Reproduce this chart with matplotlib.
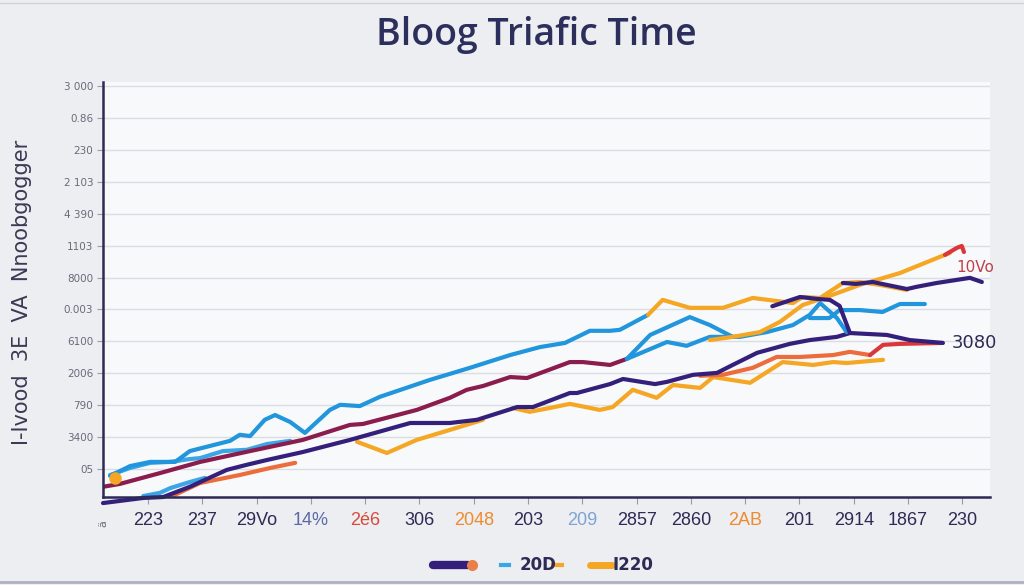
import matplotlib
matplotlib.use("Agg")
import matplotlib.pyplot as plt
from matplotlib.lines import Line2D

# x in tick-slot units, y in gridline-level units
x_labels = ["223", "237", "29Vo", "14%", "2é6", "306", "2048", "203", "209",
            "2857", "2860", "2AB", "201", "2914", "1867", "230"]
x_label_colors = ["#2d2b55", "#2d2b55", "#2d2b55", "#5b6aa6", "#d94a3a", "#2d2b55",
                  "#ef8a2e", "#2d2b55", "#7fa3d4", "#2d2b55", "#2d2b55", "#ef8a2e",
                  "#2d2b55", "#2d2b55", "#2d2b55", "#2d2b55"]
y_labels = ["05", "3400", "790", "2006", "6100", "0.003", "8000", "1103",
            "4 390", "2 103", "230", "0.86", "3 000"]

sky_main_x = [-0.70, -0.33, 0.04, 0.50, 0.77, 1.51, 1.69, 1.88, 2.15, 2.34, 2.62, 2.89,
              3.35, 3.54, 3.90, 4.27, 5.19, 5.93, 6.67, 7.22, 7.68, 8.14, 8.51, 8.69, 9.21]
sky_main_y = [-0.22, 0.09, 0.22, 0.22, 0.56, 0.88, 1.07, 1.03, 1.54, 1.69, 1.47, 1.13,
              1.85, 2.01, 1.97, 2.26, 2.79, 3.17, 3.57, 3.82, 3.95, 4.33, 4.33, 4.36, 4.83]

orange_main_x = [9.21, 9.48, 9.98, 10.59, 11.14, 11.88, 12.06, 12.38, 12.80, 13.11, 13.48, 13.98]
orange_main_y = [4.83, 5.30, 5.05, 5.05, 5.36, 5.20, 5.39, 5.36, 5.83, 5.86, 5.77, 5.61]

sky_low_x = [-0.70, -0.33, 0.04, 0.41, 0.77, 0.96, 1.38, 1.82, 2.19, 2.62]
sky_low_y = [-0.19, 0.03, 0.19, 0.22, 0.31, 0.34, 0.56, 0.60, 0.78, 0.88]

sky_bottom_x = [-0.09, 0.22, 0.41, 0.77, 1.05]
sky_bottom_y = [-0.85, -0.75, -0.60, -0.41, -0.28]

maroon_x = [-0.83, -0.52, 0.22, 0.96, 1.88, 2.85, 3.72, 3.96, 4.95, 5.56, 5.87, 6.17,
            6.67, 6.98, 7.77, 8.01, 8.51, 8.82]
maroon_y = [-0.56, -0.47, -0.13, 0.22, 0.56, 0.91, 1.38, 1.41, 1.85, 2.23, 2.48, 2.60,
            2.88, 2.85, 3.35, 3.35, 3.26, 3.45]

sky_mid1_x = [8.82, 9.25, 9.98, 10.35, 10.77]
sky_mid1_y = [3.45, 4.20, 4.76, 4.51, 4.14]

sky_mid2_x = [8.82, 9.56, 9.92, 10.35, 10.90, 11.40, 11.88, 12.19, 12.38, 12.69, 12.87]
sky_mid2_y = [3.45, 3.98, 3.86, 4.14, 4.14, 4.29, 4.51, 4.83, 5.20, 4.73, 4.29]

sky_right_x = [12.19, 12.55, 12.74, 13.11, 13.53, 13.85, 14.31]
sky_right_y = [4.73, 4.73, 4.98, 4.98, 4.92, 5.17, 5.17]

indigo_x = [-0.83, -0.09, 0.28, 0.77, 1.45, 1.82, 2.19, 2.85, 3.72, 4.83, 5.56, 6.06,
            6.80, 7.09, 7.77, 7.90, 8.51, 8.75, 9.34, 9.56, 10.04, 10.48, 10.77, 11.22,
            11.82, 12.19, 12.69, 12.93, 13.61, 14.03, 14.64]
indigo_y = [-1.07, -0.91, -0.88, -0.56, -0.03, 0.13, 0.28, 0.53, 0.91, 1.44, 1.44, 1.54,
            1.94, 1.94, 2.38, 2.38, 2.66, 2.82, 2.66, 2.73, 2.95, 3.01, 3.26, 3.64,
            3.92, 4.04, 4.14, 4.26, 4.20, 4.04, 3.95]

purple_mid_x = [11.50, 12.01, 12.32, 12.56, 12.74, 12.93]
purple_mid_y = [5.10, 5.39, 5.33, 5.30, 5.11, 4.26]

navy_up_x = [12.80, 13.04, 13.35, 13.98, 14.16, 14.53, 15.14, 15.36]
navy_up_y = [5.83, 5.80, 5.86, 5.64, 5.71, 5.83, 5.99, 5.86]

orange_low1_x = [3.85, 4.40, 4.95, 5.69, 6.17]
orange_low1_y = [0.85, 0.50, 0.91, 1.29, 1.54]

orange_low2_x = [6.72, 7.03, 7.40, 7.77, 8.32, 8.56, 8.93, 9.37, 9.67, 10.17, 10.41,
                 11.09, 11.69, 12.25, 12.62, 12.87, 13.54]
orange_low2_y = [1.91, 1.79, 1.91, 2.04, 1.85, 1.94, 2.48, 2.23, 2.63, 2.54, 2.88,
                 2.70, 3.35, 3.26, 3.35, 3.32, 3.42]

redorange_x = [10.17, 10.59, 11.14, 11.58, 12.01, 12.62, 12.93, 13.30]
redorange_y = [2.92, 2.95, 3.17, 3.51, 3.51, 3.57, 3.67, 3.57]

red_right_x = [13.30, 13.54, 13.85, 14.64]
red_right_y = [3.57, 3.89, 3.92, 3.95]

orange_b_x = [10.35, 10.77, 11.27, 11.64, 12.06, 12.50, 13.11, 13.85, 14.59, 14.77]
orange_b_y = [4.04, 4.14, 4.29, 4.61, 5.14, 5.39, 5.77, 6.14, 6.65, 6.77]

red_tip_x = [14.68, 14.90, 14.99, 15.03]
red_tip_y = [6.71, 6.93, 6.99, 6.80]

red_left_x = [0.41, 0.96, 1.69, 2.25, 2.71]
red_left_y = [-0.88, -0.44, -0.19, 0.03, 0.19]

SKY = "#2196dc"
MAROON = "#8b1c4e"
INDIGO = "#34207a"
ORANGE = "#f5a623"
REDOR = "#ec6d3b"
RED = "#d9373a"
NAVY = "#2d2b55"

fig = plt.figure(figsize=(10.24, 5.85), dpi=100, facecolor="#eceef1")
ax = fig.add_axes([103 / 1024, 88 / 585, 887 / 1024, 415 / 585])
ax.set_facecolor("#f8f9fb")

lw = 3.0
ax.plot(sky_low_x, sky_low_y, color="#3aa6e6", lw=lw, solid_capstyle="round")
ax.plot(sky_bottom_x, sky_bottom_y, color="#3aa6e6", lw=lw, solid_capstyle="round")
ax.plot(red_left_x, red_left_y, color=REDOR, lw=lw, solid_capstyle="round")
ax.plot(orange_low1_x, orange_low1_y, color=ORANGE, lw=lw, solid_capstyle="round")
ax.plot(orange_low2_x, orange_low2_y, color=ORANGE, lw=lw, solid_capstyle="round")
ax.plot(redorange_x, redorange_y, color=REDOR, lw=lw, solid_capstyle="round")
ax.plot(red_right_x, red_right_y, color=RED, lw=lw, solid_capstyle="round")
ax.plot(indigo_x, indigo_y, color=INDIGO, lw=lw, solid_capstyle="round", clip_on=False)
ax.plot(maroon_x, maroon_y, color=MAROON, lw=lw, solid_capstyle="round")
ax.plot(sky_mid1_x, sky_mid1_y, color=SKY, lw=lw, solid_capstyle="round")
ax.plot(sky_mid2_x, sky_mid2_y, color=SKY, lw=lw, solid_capstyle="round")
ax.plot(sky_right_x, sky_right_y, color=SKY, lw=lw, solid_capstyle="round")
ax.plot(sky_main_x, sky_main_y, color=SKY, lw=lw, solid_capstyle="round")
ax.plot(orange_main_x, orange_main_y, color=ORANGE, lw=lw, solid_capstyle="round")
ax.plot(orange_b_x, orange_b_y, color=ORANGE, lw=lw, solid_capstyle="round")
ax.plot(purple_mid_x, purple_mid_y, color=INDIGO, lw=lw, solid_capstyle="round")
ax.plot(navy_up_x, navy_up_y, color=INDIGO, lw=lw, solid_capstyle="round")
ax.plot(red_tip_x, red_tip_y, color=RED, lw=lw, solid_capstyle="round")
ax.plot([sky_main_x[0] + 0.1], [sky_main_y[0] - 0.05], "o", color=ORANGE, ms=8)

ax.text(15.23, 6.30, "10Vo", color="#c0404a", fontsize=11, ha="center", va="center")
ax.text(15.23, 3.95, "3080", color=NAVY, fontsize=13, ha="center", va="center")

ax.set_xlim(-0.83, 15.51)
ax.set_ylim(-0.88, 12.13)

ax.set_xticks(range(len(x_labels)))
ax.set_xticklabels(x_labels, fontsize=13, family="Liberation Sans")
for lab, c in zip(ax.get_xticklabels(), x_label_colors):
    lab.set_color(c)
ax.set_yticks(range(len(y_labels)))
ax.set_yticklabels(y_labels, fontsize=7.5, color="#6a6a7a")
ax.tick_params(axis="x", length=5, color="#9a9aaa", pad=6)
ax.tick_params(axis="y", length=4, color="#9a9aaa", pad=3)

ax.grid(axis="y", color="#dcdde3", lw=1)
ax.set_axisbelow(True)
for side in ["top", "right"]:
    ax.spines[side].set_visible(False)
for side in ["left", "bottom"]:
    ax.spines[side].set_color(NAVY)
    ax.spines[side].set_linewidth(1.8)

fig.text(0.524, 0.94, "Bloog Triafic Time", fontsize=27, fontweight="semibold",
         family="Open Sans", color="#2c2f5b", ha="center", va="center")
fig.text(0.021, 0.50, "I-Ivood  3E  VA  Nnoobgogger", rotation=90, fontsize=15,
         color="#3a3a55", ha="center", va="center")
fig.text(0.1006, 0.105, "ä", rotation=90, fontsize=8, color="#6a6a7a", ha="center", va="center")

# legend-like strip at the bottom
ly = 1 - 565 / 585
fig.add_artist(Line2D([433 / 1024, 468 / 1024], [ly, ly], color=INDIGO, lw=6,
                      solid_capstyle="round"))
fig.add_artist(Line2D([472 / 1024], [ly], marker="o", color="#e8804a", ms=7))
fig.add_artist(Line2D([501 / 1024, 509 / 1024], [ly, ly], color="#3aa6e6", lw=3))
fig.text(520 / 1024, ly, "20D", fontsize=12, fontweight="bold", color=NAVY, va="center")
fig.add_artist(Line2D([553 / 1024, 562 / 1024], [ly, ly], color=ORANGE, lw=3))
fig.add_artist(Line2D([590 / 1024, 612 / 1024], [ly, ly], color=ORANGE, lw=5,
                      solid_capstyle="round"))
fig.text(613 / 1024, ly, "I220", fontsize=12, fontweight="bold", color=NAVY, va="center")

# thin frame lines at top and bottom of the image
fig.add_artist(Line2D([0, 1], [1 - 3 / 585, 1 - 3 / 585], color="#d0d3da", lw=1))
fig.add_artist(Line2D([0, 1], [1 - 582 / 585, 1 - 582 / 585], color="#aeb2c0", lw=2))

fig.savefig("out.png", dpi=100, facecolor=fig.get_facecolor())
